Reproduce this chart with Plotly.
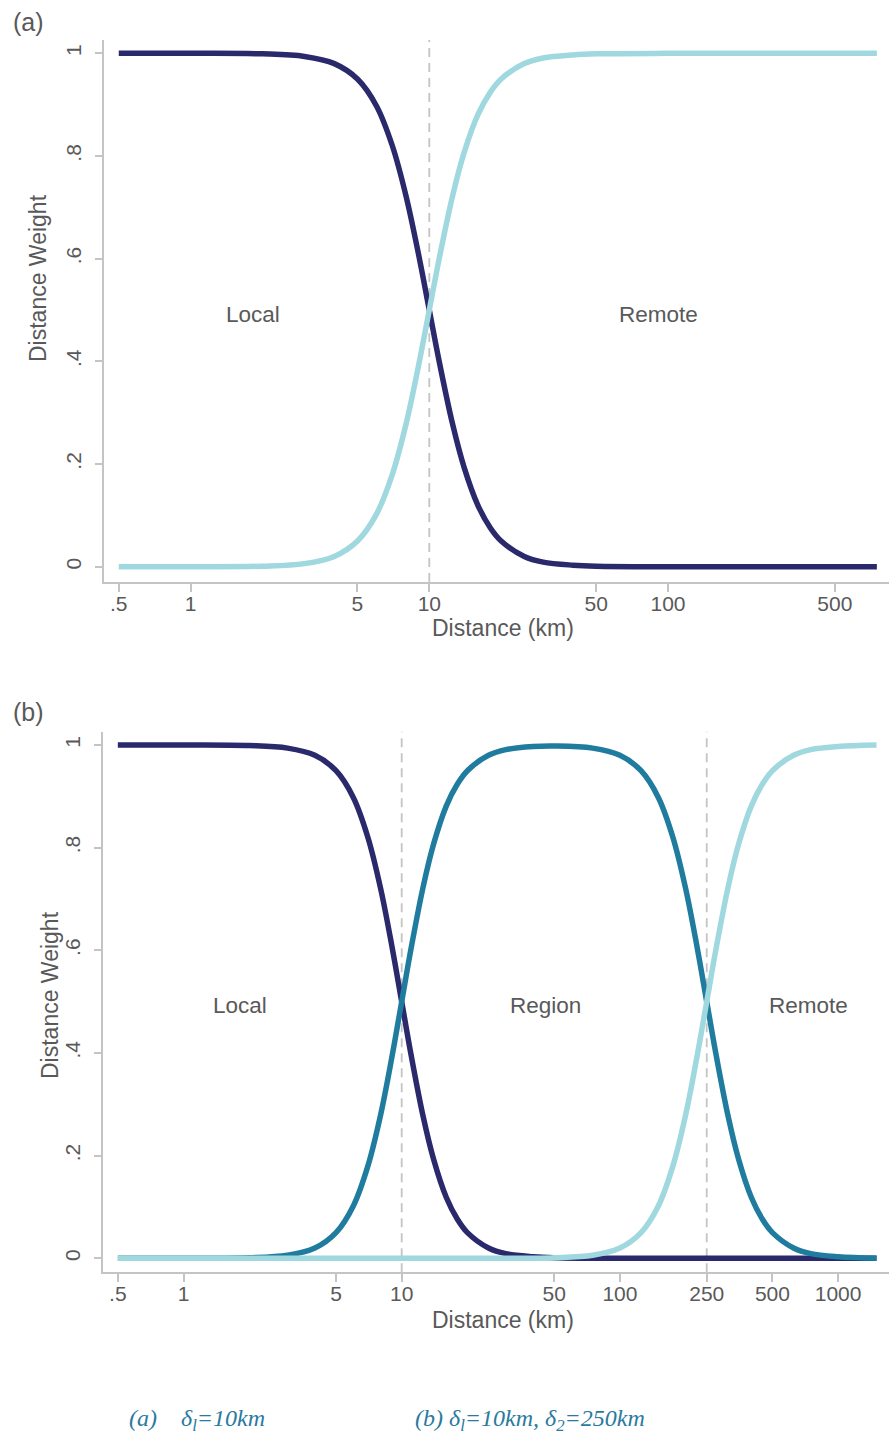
import plotly.graph_objects as go

W, H = 889, 1436

# ---------------- data ----------------
dist_a = [0.5, 1, 2, 3, 4, 5, 6, 7, 8, 9, 10, 11, 12.5, 14, 16, 18, 20, 25, 30, 40, 50,
          100, 200, 500, 750]
local_a = [1.000, 1.000, 0.999, 0.994, 0.980, 0.950, 0.898, 0.820, 0.721, 0.610, 0.500,
           0.400, 0.279, 0.193, 0.119, 0.076, 0.050, 0.020, 0.009, 0.003, 0.001,
           0.000, 0.000, 0.000, 0.000]
remote_a = [0.000, 0.000, 0.001, 0.006, 0.020, 0.050, 0.102, 0.180, 0.279, 0.390, 0.500,
            0.600, 0.721, 0.807, 0.881, 0.924, 0.950, 0.980, 0.991, 0.997, 0.999,
            1.000, 1.000, 1.000, 1.000]

dist_b = [0.5, 1, 2, 3, 4, 5, 6, 7, 8, 9, 10, 11, 12.5, 14, 16, 18, 20, 25, 30, 40,
          50, 75, 100, 125, 150, 175, 200, 225, 250, 275, 312.5, 350, 400, 450, 500,
          625, 750, 1000, 1500]
local_b = [1.000, 1.000, 0.999, 0.994, 0.980, 0.950, 0.898, 0.820, 0.721, 0.610, 0.500,
           0.400, 0.279, 0.193, 0.119, 0.076, 0.050, 0.020, 0.009, 0.003,
           0.001, 0.000, 0.000, 0.000, 0.000, 0.000, 0.000, 0.000, 0.000, 0.000,
           0.000, 0.000, 0.000, 0.000, 0.000, 0.000, 0.000, 0.000, 0.000]
region_b = [0.000, 0.000, 0.001, 0.006, 0.020, 0.050, 0.102, 0.180, 0.279, 0.390, 0.500,
            0.600, 0.721, 0.807, 0.881, 0.924, 0.950, 0.980, 0.991, 0.997,
            0.998, 0.994, 0.980, 0.950, 0.898, 0.820, 0.721, 0.610, 0.500, 0.400,
            0.279, 0.193, 0.119, 0.076, 0.050, 0.020, 0.009, 0.003, 0.000]
remote_b = [0.000, 0.000, 0.000, 0.000, 0.000, 0.000, 0.000, 0.000, 0.000, 0.000, 0.000,
            0.000, 0.000, 0.000, 0.000, 0.000, 0.000, 0.000, 0.000, 0.000,
            0.001, 0.006, 0.020, 0.050, 0.102, 0.180, 0.279, 0.390, 0.500, 0.600,
            0.721, 0.807, 0.881, 0.924, 0.950, 0.980, 0.991, 0.997, 1.000]

x_tickvals_a = [0.5, 1, 5, 10, 50, 100, 500]
x_ticktext_a = [".5", "1", "5", "10", "50", "100", "500"]
x_tickvals_b = [0.5, 1, 5, 10, 50, 100, 250, 500, 1000]
x_ticktext_b = [".5", "1", "5", "10", "50", "100", "250", "500", "1000"]
y_tickvals = [0, 0.2, 0.4, 0.6, 0.8, 1]
y_ticktext = ["0", ".2", ".4", ".6", ".8", "1"]
thresholds_a = [10]
thresholds_b = [10, 250]

# ---------------- style ----------------
NAVY = "#29296b"
TEAL = "#1f7c9e"
CYAN = "#9fd8df"
AXC = "#c4c4c4"
TXT = "#595959"
FONT = "Liberation Sans, Arial, sans-serif"
LW = 5.5


def px(x):
    return x / W


def py(y):
    return 1 - y / H


fig = go.Figure()

line_kw = dict(mode="lines", line_shape="spline", showlegend=False, hoverinfo="skip")
fig.add_trace(go.Scatter(x=dist_a, y=local_a, line=dict(color=NAVY, width=LW),
                         xaxis="x", yaxis="y", **line_kw))
fig.add_trace(go.Scatter(x=dist_a, y=remote_a, line=dict(color=CYAN, width=LW),
                         xaxis="x", yaxis="y", **line_kw))
fig.add_trace(go.Scatter(x=dist_b, y=local_b, line=dict(color=NAVY, width=LW),
                         xaxis="x2", yaxis="y2", **line_kw))
fig.add_trace(go.Scatter(x=dist_b, y=region_b, line=dict(color=TEAL, width=LW),
                         xaxis="x2", yaxis="y2", **line_kw))
fig.add_trace(go.Scatter(x=dist_b, y=remote_b, line=dict(color=CYAN, width=LW),
                         xaxis="x2", yaxis="y2", **line_kw))

shapes = []
for t in thresholds_a:
    shapes.append(dict(type="line", xref="x", yref="y domain", x0=t, x1=t, y0=0, y1=1,
                       line=dict(color="#c4c4c4", width=1.8, dash="9px,6px"), layer="below"))
for t in thresholds_b:
    shapes.append(dict(type="line", xref="x2", yref="y2 domain", x0=t, x1=t, y0=0, y1=1,
                       line=dict(color="#c4c4c4", width=1.8, dash="9px,6px"), layer="below"))

common_axis = dict(showline=True, linecolor=AXC, linewidth=1.5, ticks="outside",
                   ticklen=8, tickwidth=1.5, tickcolor=AXC, showgrid=False,
                   zeroline=False, tickfont=dict(family=FONT, size=21, color=TXT),
                   fixedrange=True)

xa = dict(type="log", tickmode="array", tickvals=x_tickvals_a, ticktext=x_ticktext_a,
          domain=[px(104.3), 1], range=[-0.3616, 2.9259], anchor="y",
          ticklabelstandoff=-6, **common_axis)
ya = dict(tickmode="array", tickvals=y_tickvals, ticktext=y_ticktext, tickangle=-90,
          domain=[py(582), py(40)], range=[-0.0298, 1.026], anchor="x",
          ticklabelstandoff=5, **common_axis)
xb = dict(type="log", tickmode="array", tickvals=x_tickvals_b, ticktext=x_ticktext_b,
          domain=[px(103.3), 1], range=[-0.3676, 3.2333], anchor="y2",
          ticklabelstandoff=-6, **common_axis)
yb = dict(tickmode="array", tickvals=y_tickvals, ticktext=y_ticktext, tickangle=-90,
          domain=[py(1272.3), py(731.7)], range=[-0.0273, 1.026], anchor="x2",
          ticklabelstandoff=5, **common_axis)


def ann(text, x, y, size=22.5, angle=0, xanchor="center", font=None, color=TXT):
    return dict(text=text, x=px(x), y=py(y), xref="paper", yref="paper",
                showarrow=False, textangle=angle, xanchor=xanchor, yanchor="middle",
                font=dict(family=font or FONT, size=size, color=color))


CAPC = "#2a7aa0"
SERIF = "Liberation Serif, Times New Roman, serif"
annotations = [
    ann("(a)", 28, 22, size=25),
    ann("(b)", 28, 712, size=25),
    ann("Distance Weight", 38, 278, size=23, angle=-90),
    ann("Distance Weight", 50, 995, size=23, angle=-90),
    ann("Distance (km)", 503, 628, size=23),
    ann("Distance (km)", 503, 1320, size=23),
    ann("Local", 253, 314),
    ann("Remote", 658, 314),
    ann("Local", 240, 1005),
    ann("Region", 545, 1005),
    ann("Remote", 808, 1005),
    ann("<i>(a)    δ<sub>l</sub>=10km</i>", 127, 1420, size=24, xanchor="left",
        font=SERIF, color=CAPC),
    ann("<i>(b) δ<sub>l</sub>=10km, δ<sub>2</sub>=250km</i>", 413, 1420, size=24,
        xanchor="left", font=SERIF, color=CAPC),
]

fig.update_layout(
    width=W, height=H, margin=dict(l=0, r=0, t=0, b=0),
    paper_bgcolor="white", plot_bgcolor="white",
    xaxis=xa, yaxis=ya, xaxis2=xb, yaxis2=yb,
    shapes=shapes, annotations=annotations, showlegend=False,
)

fig.write_html(
    "out.html",
    config={"displayModeBar": False},
    post_script="document.body.style.margin='0px';document.body.style.padding='0px';"
                "document.documentElement.style.overflow='hidden';",
)
